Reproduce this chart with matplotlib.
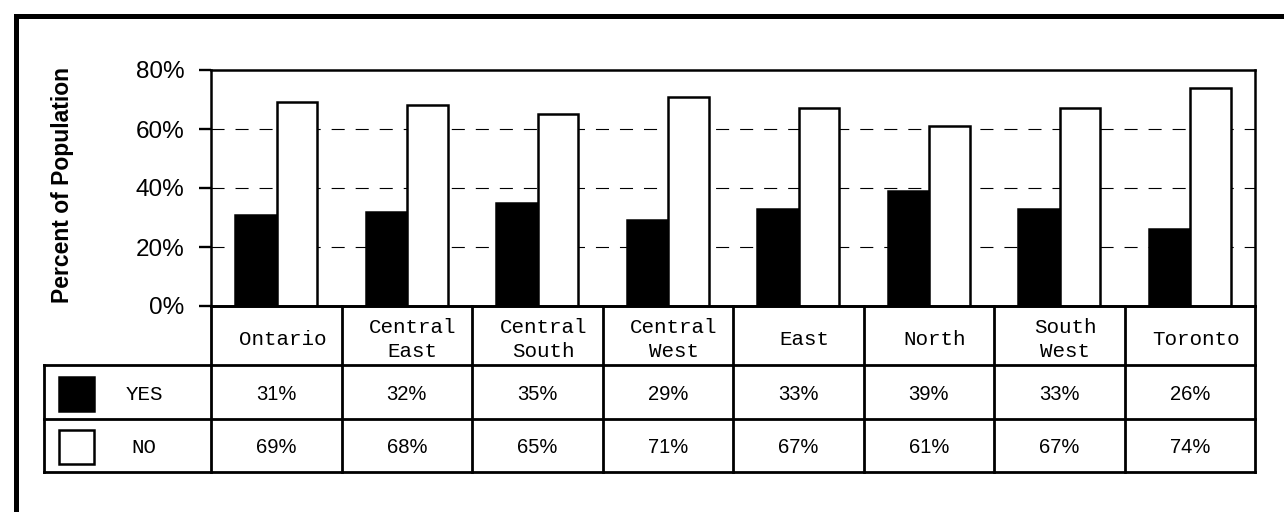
import matplotlib
matplotlib.use("Agg")
import matplotlib.pyplot as plt
from matplotlib.lines import Line2D
from matplotlib.patches import Rectangle
from matplotlib.ticker import FuncFormatter

# Survey results by region (percent of population)
regions = ["Ontario", "Central\nEast", "Central\nSouth", "Central\nWest",
           "East", "North", "South\nWest", "Toronto"]
yes_pct = [31, 32, 35, 29, 33, 39, 33, 26]
no_pct = [69, 68, 65, 71, 67, 61, 67, 74]
series_names = ["YES", "NO"]
y_ticks = [0, 20, 40, 60, 80]

plt.rcParams["lines.scale_dashes"] = False
SANS = "Liberation Sans"
MONO = "Liberation Mono"

W, H, DPI = 1284, 512, 100
fig = plt.figure(figsize=(W / DPI, H / DPI), dpi=DPI)
fig.patch.set_facecolor("white")


def fx(px):
    return px / W


def fy(py):
    return 1 - py / H


# Pixel layout of the plotting area and the data table
ax_l, ax_r, ax_t, ax_b = 211, 1255, 70, 306
tab_b = 472
leg_l = 44
hdr_h, row_h = 59, 54

ax = fig.add_axes([fx(ax_l), fy(ax_b), fx(ax_r - ax_l), (ax_b - ax_t) / H])
n = len(regions)
xs = list(range(n))
bw = 0.31
ax.bar([x - bw / 2 - 0.005 for x in xs], yes_pct, width=bw, color="black",
       edgecolor="black", linewidth=1.8, zorder=3)
ax.bar([x + bw / 2 + 0.005 for x in xs], no_pct, width=bw, color="white",
       edgecolor="black", linewidth=1.8, zorder=3)
ax.set_xlim(-0.5, n - 0.5)
ax.set_ylim(y_ticks[0], y_ticks[-1])
ax.set_yticks(y_ticks)
ax.yaxis.set_major_formatter(FuncFormatter(lambda v, p: f"{v:.0f}%"))
ax.set_xticks([])
ax.tick_params(axis="y", direction="out", length=8.6, width=1.7,
               pad=10.5, labelsize=17.5, color="black")
for lab in ax.get_yticklabels():
    lab.set_fontfamily(SANS)
for s in ax.spines.values():
    s.set_linewidth(1.8)
    s.set_color("black")
for v in y_ticks[1:-1]:
    ax.axhline(v, color="black", linewidth=0.8,
               linestyle=(0, (9.4, 7.9)), zorder=1)

fig.text(fx(62), fy(185), "Percent of Population", rotation=90,
         ha="center", va="center", fontsize=16.5, fontweight="bold",
         family=SANS)

# Data table below the plot, sharing the category axis
tab = fig.add_axes([fx(ax_l), fy(tab_b), fx(ax_r - ax_l), (tab_b - ax_b) / H])
tab.set_xlim(-0.5, n - 0.5)
tab.set_ylim(tab_b - ax_b, 0)
tab.axis("off")
unit = (ax_r - ax_l) / n
x_leg = -0.5 - (ax_l - leg_l) / unit
lw_tab = 2.0
y_rows = [hdr_h, hdr_h + row_h, tab_b - ax_b]

tab.add_line(Line2D([-0.5, n - 0.5], [0, 0], color="black", lw=lw_tab,
                    clip_on=False))
for yv in y_rows:
    tab.add_line(Line2D([x_leg, n - 0.5], [yv, yv], color="black",
                        lw=lw_tab, clip_on=False, solid_capstyle="projecting"))
for k in range(n + 1):
    tab.add_line(Line2D([k - 0.5, k - 0.5], [0, y_rows[-1]], color="black",
                        lw=lw_tab, clip_on=False, solid_capstyle="projecting"))
tab.add_line(Line2D([x_leg, x_leg], [hdr_h, y_rows[-1]], color="black",
                    lw=lw_tab, clip_on=False, solid_capstyle="projecting"))

off = 6 / unit
for i, name in enumerate(regions):
    tab.text(i + off, hdr_h / 2 + 4, name, ha="center", va="center",
             family=MONO, fontsize=15, linespacing=1.35, clip_on=False)

row_centers = [hdr_h + row_h / 2 + 3,
               hdr_h + row_h + (y_rows[-1] - hdr_h - row_h) / 2 + 2]
for vals, yc in zip([yes_pct, no_pct], row_centers):
    for i, v in enumerate(vals):
        tab.text(i, yc, f"{v}%", ha="center", va="center",
                 family=SANS, fontsize=14.5, clip_on=False)

# Legend cells: swatch + series name
sw = 35 / unit
sw_x = x_leg + (59 - leg_l) / unit
for name, fill, yc in zip(series_names, ["black", "white"], row_centers):
    tab.add_patch(Rectangle((sw_x, yc - 1 - 17), sw, 34, facecolor=fill,
                            edgecolor="black", lw=1.8, clip_on=False))
    tab.text(x_leg + (144 - leg_l) / unit, yc, name, ha="center",
             va="center", family=MONO, fontsize=15, clip_on=False)

# Heavy frame along the top and left edges, drawn as one polyline
fig.add_artist(Line2D([fx(15.8), fx(15.8), 1.0], [0.0, fy(15.8), fy(15.8)],
                      color="black", lw=3.6, transform=fig.transFigure,
                      solid_capstyle="butt", solid_joinstyle="miter"))

fig.savefig("out.png", dpi=DPI, facecolor="white")
